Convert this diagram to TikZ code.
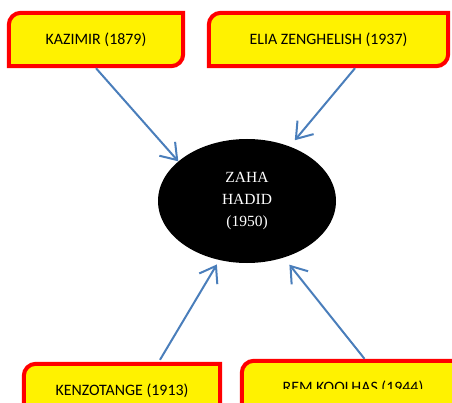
\documentclass[tikz,border=0pt]{standalone}
\usepackage{fontspec}
\usepackage{tikz}
\usetikzlibrary{arrows.meta,shapes.geometric,backgrounds}
\newfontfamily\boxfont{Carlito}
\newfontfamily\ovalfont{Liberation Serif}
\definecolor{arrowblue}{RGB}{74,126,187}

\begin{document}
\begin{tikzpicture}[
                x=1pt, y=-1pt,
                person/.style={minimum height=53, inner sep=0, font=\boxfont\fontsize{15.9}{18}\selectfont},
                frame/.style={draw=red, line width=4pt, fill=yellow},
                link/.style={draw=arrowblue, line width=2pt, -{Straight Barb[length=15pt,width=21pt]}},
              ]
              \useasboundingbox (0,0) rectangle (452,403);
              % the four names round the middle
              \node[person, minimum width=174] (kazimir) at (96,39.5) {KAZIMIR (1879)};
              \node[person, minimum width=239] (elia) at (328.5,39.5) {ELIA ZENGHELISH (1937)};
              \node[person, minimum width=196] (kenzo) at (122,390.5) {KENZOTANGE (1913)};
              \begin{scope}
                \clip (0,0) rectangle (452,388);
                \node[person, minimum width=222] (rem) at (353,387.5) {REM KOOLHAS (1944)};
              \end{scope}
              \node[ellipse, fill=black, minimum width=178, minimum height=124, inner sep=0,
                text=white, align=center, font=\ovalfont\fontsize{15.5}{22}\selectfont]
                (hadid) at (247,201) {ZAHA\\HADID\\(1950)};
              \begin{scope}[on background layer]
                \foreach \n in {kazimir,elia,kenzo,rem}
                  \draw[frame] (\n.north east) -- ([yshift=12pt]\n.south east)
                    arc[start angle=0, end angle=-90, radius=12pt] -- (\n.south west)
                    -- ([yshift=-12pt]\n.north west)
                    arc[start angle=180, end angle=90, radius=12pt] -- cycle;
              \end{scope}
              \draw[link] ([yshift=-2pt]kazimir.south) -- (hadid.150);
              \draw[link, shorten >=8pt] ([xshift=26.5pt, yshift=-2pt]elia.south) -- (hadid.52);
              \draw[link, shorten >=5pt] ([xshift=38pt, yshift=4pt]kenzo.north) -- (hadid.245);
              \draw[link, shorten >=9pt] ([xshift=11.5pt, yshift=2pt]rem.north) -- (hadid.303);
              \end{tikzpicture}
\end{document}
